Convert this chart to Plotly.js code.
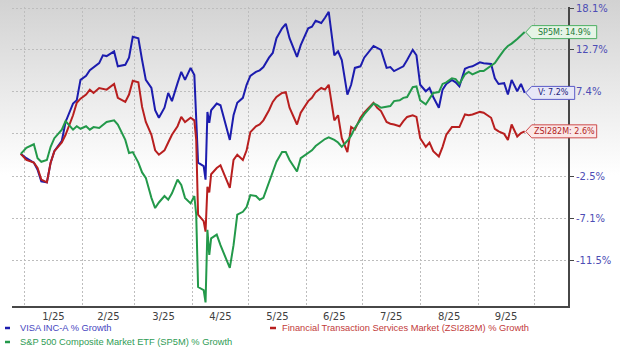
<!DOCTYPE html>
<html><head><meta charset="utf-8">
<script src="https://cdn.plot.ly/plotly-3.0.1.min.js"></script>
<style>
html,body{margin:0;padding:0;}
body{width:620px;height:354px;background:linear-gradient(to bottom,#d2d2d2 0px,#ffffff 175px,#ffffff 354px);}
#chart{width:620px;height:354px;}
</style></head><body><div id="chart"></div>
<script>
const dates = [
'2024-12-30','2025-01-02','2025-01-06','2025-01-08','2025-01-10','2025-01-13','2025-01-15','2025-01-17','2025-01-21','2025-01-23','2025-01-27','2025-01-29','2025-01-31',
'2025-02-03','2025-02-05','2025-02-07','2025-02-10','2025-02-12','2025-02-14','2025-02-18','2025-02-20','2025-02-24','2025-02-26','2025-02-28',
'2025-03-03','2025-03-05','2025-03-07','2025-03-10','2025-03-12','2025-03-14','2025-03-17','2025-03-19','2025-03-21','2025-03-24','2025-03-26','2025-03-28','2025-03-31',
'2025-04-02','2025-04-03','2025-04-04','2025-04-07','2025-04-08','2025-04-09','2025-04-10','2025-04-11','2025-04-14','2025-04-16','2025-04-21','2025-04-23','2025-04-25','2025-04-28','2025-04-30',
'2025-05-02','2025-05-05','2025-05-07','2025-05-09','2025-05-12','2025-05-14','2025-05-16','2025-05-19','2025-05-21','2025-05-23','2025-05-27','2025-05-29',
'2025-06-02','2025-06-04','2025-06-06','2025-06-09','2025-06-11','2025-06-13','2025-06-16','2025-06-18','2025-06-20','2025-06-23','2025-06-25','2025-06-27','2025-06-30',
'2025-07-02','2025-07-07','2025-07-09','2025-07-11','2025-07-14','2025-07-16','2025-07-18','2025-07-21','2025-07-23','2025-07-25','2025-07-28','2025-07-30',
'2025-08-01','2025-08-04','2025-08-06','2025-08-08','2025-08-11','2025-08-13','2025-08-15','2025-08-18','2025-08-20','2025-08-22','2025-08-25','2025-08-27','2025-08-29',
'2025-09-02','2025-09-04','2025-09-08','2025-09-10','2025-09-12','2025-09-15','2025-09-17','2025-09-19','2025-09-22','2025-09-24','2025-09-26'
];
const visaGrowth = [
0,-0.5,-1.0,-1.8,-3.1,-3.2,-1.0,0.3,1.5,3.7,5.9,6.3,8.8,
9.3,10.0,10.4,10.9,11.9,11.8,12.4,10.5,10.7,11.6,14.3,
14.1,11.3,8.8,7.8,5.1,4.2,5.4,7.2,6.2,8.4,9.8,8.8,10.3,
9.4,4.5,-1.0,-1.4,-2.9,4.9,3.6,5.1,5.9,5.7,1.6,4.5,6.0,6.6,8.2,
9.3,9.8,10.0,10.4,11.6,12.2,14.1,15.4,16.0,14.1,11.7,13.2,
15.4,15.6,16.4,16.1,16.8,17.6,11.9,12.4,11.3,7.0,8.2,10.3,10.5,
11.6,13.1,12.8,12.6,10.3,10.4,9.9,10.3,10.5,11.3,12.6,11.9,
8.2,7.4,7.8,6.7,5.4,7.6,8.3,8.8,8.5,8.0,10.2,10.4,10.5,
11.0,10.9,10.8,9.0,8.3,8.4,7.0,8.8,7.4,8.3,7.2
];
const zsiGrowth = [
0,-0.7,-1.0,-1.6,-2.9,-3.2,-1.0,0.3,1.3,2.2,4.5,6.0,6.5,
7.0,7.6,7.2,7.8,7.7,7.6,8.3,6.6,6.1,7.0,8.7,
8.5,5.5,3.7,2.2,0.4,-0.1,0.4,1.3,2.2,3.2,4.3,3.7,4.2,
3.9,1.6,-6.7,-7.4,-8.5,-3.7,-4.3,-2.3,-1.6,-1.3,-3.8,-0.7,-0.1,-0.7,0.4,
2.5,3.2,3.4,3.9,5.1,6.1,6.7,7.2,7.3,5.4,3.4,4.8,
6.2,6.6,7.3,7.8,7.6,8.2,3.9,4.5,1.8,0.2,3.1,2.8,4.2,
4.8,6.0,5.4,5.0,3.7,3.5,3.4,3.2,3.8,4.3,4.5,4.3,
1.8,0.8,1.3,0.3,-0.3,0.8,2.2,3.1,3.1,3.1,4.6,4.5,4.6,
4.9,4.8,4.2,2.9,2.6,2.3,1.6,3.4,2.0,2.4,2.6
];
const sp5mGrowth = [
0,0.7,1.1,-0.5,-0.9,-0.7,0.8,1.8,2.8,3.8,2.8,3.2,2.9,
3.2,2.8,3.1,3.0,3.4,3.7,3.9,3.4,1.6,0.1,0.2,
-1.0,-2.1,-2.7,-4.9,-6.0,-5.4,-4.7,-5.1,-4.4,-2.9,-3.5,-4.9,-5.5,
-4.7,-6.7,-14.1,-14.4,-15.6,-8.3,-10.9,-9.2,-8.8,-9.9,-12.2,-9.9,-6.7,-6.4,-5.9,
-4.6,-4.7,-5.1,-4.9,-3.2,-2.0,-0.9,0.2,0.2,-0.7,-2.0,-0.5,
0.1,0.4,0.9,1.4,1.7,1.9,1.6,1.3,0.8,1.5,2.1,3.0,3.9,
4.6,5.9,5.7,5.4,5.5,5.6,6.2,6.3,6.6,6.7,7.9,8.0,
6.3,5.8,6.5,7.2,7.3,8.3,8.5,9.0,8.9,8.3,9.5,9.8,9.5,
9.9,9.9,10.5,10.9,11.6,12.6,13.1,13.4,14.0,14.4,14.9
];
const seriesNames = ['VISA INC-A % Growth','Financial Transaction Services Market (ZSI282M) % Growth','S&P 500 Composite Market ETF (SP5M) % Growth'];
const endTags = ['V','ZSI282M','SP5M'];
const yTickVals = [18.1,12.7,7.4,2.3,-2.5,-7.1,-11.5];
const yTickText = ['18.1%','12.7%','7.4%','','-2.5%','-7.1%','-11.5%'];
const monthStarts = ['2025-01-01','2025-02-01','2025-03-01','2025-04-01','2025-05-01','2025-06-01','2025-07-01','2025-08-01','2025-09-01','2025-10-01'];
const monthMids = ['2025-01-16 12:00','2025-02-15','2025-03-16 12:00','2025-04-16','2025-05-16 12:00','2025-06-16','2025-07-16 12:00','2025-08-16 12:00','2025-09-16'];
const monthLabels = ['1/25','2/25','3/25','4/25','5/25','6/25','7/25','8/25','9/25'];

const lineColors = ['#1c1cae','#b81f1f','#23994a'];
const textColors = ['#4646c0','#c23a3a','#2f9c55'];
const tagText = ['#22227a','#b01e1e','#237a36'];
const tagFill = ['#e7e7f7','#fbe7e7','#e6f4e6'];
const tagLine = ['#5a5ac8','#cc4a4a','#4caf62'];
const tagWidth = [50,72,72];

const xRange = ['2024-12-25 07:12','2025-10-19 04:48'];
const yRange = [Math.log10(100-15.94), Math.log10(100+18.24)];

const all = [visaGrowth, zsiGrowth, sp5mGrowth];
const traces = all.map((s,i)=>({
  x: dates, y: s.map(v=>100+v), type:'scatter', mode:'lines',
  name: seriesNames[i], line:{color:lineColors[i], width:2}, hoverinfo:'skip'
}));
// carrier for the month-boundary grid axis
traces.unshift({x: monthStarts, y: monthStarts.map(()=>null), xaxis:'x2', yaxis:'y',
  type:'scatter', mode:'lines', showlegend:false, hoverinfo:'skip', line:{width:0}});

const r0 = Date.parse(xRange[0].replace(' ','T')+':00Z');
const r1 = Date.parse(xRange[1].replace(' ','T')+':00Z');
const lastT = Date.parse(dates[dates.length-1]+'T00:00:00Z');
const frac = (lastT - r0)/(r1 - r0);

const shapes = [];
const annotations = [];
all.forEach((s,i)=>{
  const last = s[s.length-1];
  const w = tagWidth[i];
  shapes.push({type:'path', xref:'paper', yref:'y', xsizemode:'pixel', ysizemode:'pixel',
    xanchor: frac, yanchor: 100+last,
    path:`M1,0 L7,6.5 L${w},6.5 L${w},-6.5 L7,-6.5 Z`,
    fillcolor: tagFill[i], line:{color:tagLine[i], width:1}, layer:'above'});
  annotations.push({xref:'paper', yref:'y', x: frac, y: Math.log10(100+last),
    xanchor:'center', yanchor:'middle', xshift:(7+w)/2, showarrow:false,
    text: endTags[i]+': '+last.toFixed(1)+'%',
    font:{family:'DejaVu Sans, Verdana, sans-serif', size:8, color:tagText[i]}});
});

// legend (custom, below chart)
const plotH = 354-7-48, plotW = 620-12-52;
const px = x => (x-12)/plotW;
const py = y => (306-y)/plotH;
const legendPos = [[18,328],[280,328],[18,342]];
const dashPos = [[5,10],[270,276],[5,10]];
seriesNames.forEach((n,i)=>{
  annotations.push({xref:'paper', yref:'paper', x:px(legendPos[i][0]), y:py(legendPos[i][1]),
    xanchor:'left', yanchor:'middle', showarrow:false, text:n,
    font:{family:'Liberation Sans, Arial, sans-serif', size:9.3, color:textColors[i]}});
  shapes.push({type:'line', xref:'paper', yref:'paper', x0:px(dashPos[i][0]), x1:px(dashPos[i][1]),
    y0:py(legendPos[i][1]), y1:py(legendPos[i][1]), line:{color:lineColors[i], width:2.5}});
});

const gridStyle = {showgrid:true, gridcolor:'#bdbdbd', griddash:'2px,2px', gridwidth:1};
const layout = {
  width:620, height:354,
  margin:{l:12, r:52, t:7, b:48, pad:0},
  paper_bgcolor:'rgba(0,0,0,0)', plot_bgcolor:'rgba(0,0,0,0)',
  showlegend:false, hovermode:false,
  xaxis:{type:'date', range:xRange, autorange:false, tickmode:'array', tickvals:monthMids, ticktext:monthLabels,
    ticks:'', showgrid:false, zeroline:false, showline:true, linecolor:'#474747', linewidth:2,
    tickfont:{family:'DejaVu Sans, Verdana, sans-serif', size:10, color:'#404040'},
    fixedrange:true},
  xaxis2:Object.assign({type:'date', overlaying:'x', side:'bottom', range:xRange, autorange:false,
    tickmode:'array', tickvals:monthStarts, showticklabels:false, ticks:'', zeroline:false, showline:false,
    fixedrange:true}, gridStyle),
  yaxis:Object.assign({type:'log', range:yRange, autorange:false, side:'right', tickmode:'array',
    tickvals:yTickVals.map(v=>100+v), ticktext:yTickText, zeroline:false,
    showline:true, linecolor:'#474747', linewidth:2, ticks:'outside', ticklen:4, tickwidth:1, tickcolor:'#474747',
    tickfont:{family:'DejaVu Sans, Verdana, sans-serif', size:10, color:'#4d4db5'},
    fixedrange:true}, gridStyle),
  shapes: shapes,
  annotations: annotations
};
Plotly.newPlot('chart', traces, layout, {displayModeBar:false, staticPlot:true});
</script></body></html>
